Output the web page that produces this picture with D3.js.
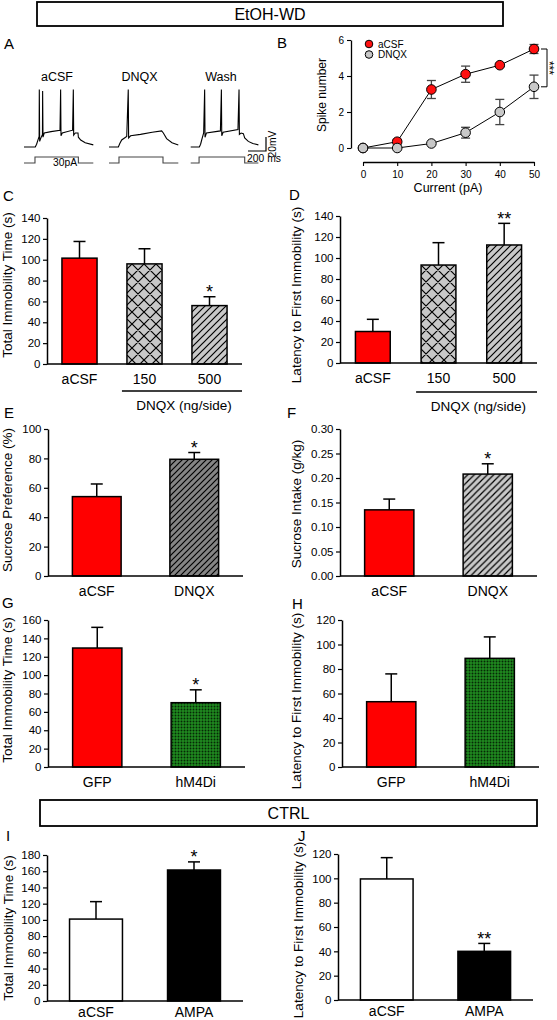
<!DOCTYPE html>
<html><head><meta charset="utf-8">
<script src="https://cdn.jsdelivr.net/npm/d3@7"></script>
<style>body{margin:0;background:#fff;} svg text{font-family:"Liberation Sans",Arial,sans-serif;}</style>
</head><body><svg id="c" width="557" height="1020"></svg>
<script>
// ---------------- DATA ----------------
const headerTop = "EtOH-WD";
const headerBottom = "CTRL";

// Panel A: example traces (time ms, membrane potential mV)
const traceNames = ["aCSF", "DNQX", "Wash"];
const traceACSF = [[0,-70],[125,-70],[140,-66],[160,-58],[168,-55],[170,12],[174,-62],[185,-58],[205,-52],[207,10],[211,-56],[225,-50],[300,-48],[400,-46],[407,12],[411,-54],[425,-50],[540,-46],[548,12],[552,-53],[570,-50],[600,-50],[604,-56],[630,-60],[680,-64],[770,-67]];
const traceDNQX = [[0,-70],[104,-70],[120,-65],[141,-60],[197,-55],[214,12],[218,-57],[240,-54],[350,-52],[480,-49],[585,-47],[604,-50],[640,-58],[700,-64],[770,-67]];
const traceWash = [[0,-70],[96,-70],[110,-66],[122,-60],[144,-50],[155,12],[159,-56],[175,-50],[330,-47],[341,12],[345,-54],[360,-49],[525,-45],[537,12],[541,-52],[560,-50],[585,-51],[600,-57],[640,-62],[690,-65],[752,-67]];
const stimOn = [122, 111, 93];
const stimOff = [604, 600, 600];
const traceEnd = [770, 770, 752];
const stimAmp = 30;      // pA
const scaleBarMs = 200;  // ms
const scaleBarMv = 20;   // mV

// Panel B
const bCurrent = [0, 10, 20, 30, 40, 50];
const bACSF = [0, 0.35, 3.25, 4.1, 4.6, 5.5];
const bACSFerr = [0, 0.12, 0.5, 0.45, 0.08, 0.25];
const bDNQX = [0, 0, 0.25, 0.85, 2.0, 3.4];
const bDNQXerr = [0, 0, 0.04, 0.3, 0.7, 0.65];
const bYTicks = [0, 2, 4, 6];
const bXTicks = [0, 10, 20, 30, 40, 50];

// Panel C
const cCats = ["aCSF", "150", "500"];
const cMeans = [101.5, 96, 56];
const cErr = [16, 14.5, 8.5];
const cSig = ["", "", "*"];
const cTicks = [0, 20, 40, 60, 80, 100, 120, 140];

// Panel D
const dCats = ["aCSF", "150", "500"];
const dMeans = [30, 93.3, 112.4];
const dErr = [11.6, 21.3, 20.6];
const dSig = ["", "", "**"];
const dTicks = [0, 20, 40, 60, 80, 100, 120, 140];

// Panel E
const eCats = ["aCSF", "DNQX"];
const eMeans = [54, 79.4];
const eErr = [8.6, 4.6];
const eSig = ["", "*"];
const eTicks = [0, 20, 40, 60, 80, 100];

// Panel F
const fCats = ["aCSF", "DNQX"];
const fMeans = [0.135, 0.208];
const fErr = [0.022, 0.021];
const fSig = ["", "*"];
const fTicks = [0, 0.05, 0.10, 0.15, 0.20, 0.25, 0.30];

// Panel G
const gCats = ["GFP", "hM4Di"];
const gMeans = [129.5, 70];
const gErr = [22.5, 14];
const gSig = ["", "*"];
const gTicks = [0, 20, 40, 60, 80, 100, 120, 140, 160];

// Panel H
const hCats = ["GFP", "hM4Di"];
const hMeans = [53.3, 88.7];
const hErr = [22.7, 17.5];
const hSig = ["", ""];
const hTicks = [0, 20, 40, 60, 80, 100, 120];

// Panel I
const iCats = ["aCSF", "AMPA"];
const iMeans = [101, 161.5];
const iErr = [21.5, 10];
const iSig = ["", "*"];
const iTicks = [0, 20, 40, 60, 80, 100, 120, 140, 160, 180];

// Panel J
const jCats = ["aCSF", "AMPA"];
const jMeans = [99.5, 40];
const jErr = [17.5, 6.5];
const jSig = ["", "**"];
const jTicks = [0, 20, 40, 60, 80, 100, 120];

// ---------------- DRAWING ----------------
const svg = d3.select("#c");
const FONT = "'Liberation Sans', Arial, sans-serif";
const defs = svg.append("defs");

function hatchPattern(id, bg, p, cross) {
  const pat = defs.append("pattern").attr("id", id).attr("patternUnits", "userSpaceOnUse")
    .attr("width", p).attr("height", p);
  pat.append("rect").attr("width", p).attr("height", p).attr("fill", bg);
  let d = `M-1,1L1,-1M0,${p}L${p},0M${p-1},${p+1}L${p+1},${p-1}`;
  if (cross) d += `M-1,${p-1}L1,${p+1}M0,0L${p},${p}M${p-1},-1L${p+1},1`;
  pat.append("path").attr("d", d).attr("stroke", "#000").attr("stroke-width", 1.2).attr("fill", "none");
}
hatchPattern("cross", "#c8c8c8", 12, true);
hatchPattern("hatchLight", "#c8c8c8", 7, false);
hatchPattern("hatchLight2", "#c8c8c8", 6.5, false);
hatchPattern("hatchDark", "#858585", 6, false);
{
  const pat = defs.append("pattern").attr("id", "dots").attr("patternUnits", "userSpaceOnUse")
    .attr("width", 3).attr("height", 3);
  pat.append("rect").attr("width", 3).attr("height", 3).attr("fill", "#1f8a1f");
  pat.append("circle").attr("cx", 1.5).attr("cy", 1.5).attr("r", 0.95).attr("fill", "#062806");
}

function txt(x, y, s, size, anchor, extra) {
  const t = svg.append("text").attr("x", x).attr("y", y).text(s)
    .attr("font-size", size).attr("text-anchor", anchor || "start").attr("fill", "#000");
  if (extra) extra(t);
  return t;
}
function rotLabel(x, y, s, size) {
  return svg.append("text").attr("transform", `translate(${x},${y}) rotate(-90)`)
    .attr("text-anchor", "middle").attr("font-size", size).attr("fill", "#000").text(s);
}

// Header boxes
function header(x0, x1, y0, y1, label) {
  svg.append("rect").attr("x", x0).attr("y", y0).attr("width", x1 - x0).attr("height", y1 - y0)
    .attr("fill", "none").attr("stroke", "#000").attr("stroke-width", 1.8);
  txt((x0 + x1) / 2, (y0 + y1) / 2 + 5.5, label, 16, "middle");
}
header(37, 503, 2, 26, headerTop);
header(40, 537, 800, 826, headerBottom);

// Panel letters
const letters = [["A",4,49],["B",277,48],["C",3,201],["D",289,200],["E",4,418],["F",287,418],["G",2,608],["H",292,609],["I",6,841],["J",298,841]];
letters.forEach(l => txt(l[1], l[2], l[0], 15));

// ---------- Panel A ----------
const traces = [traceACSF, traceDNQX, traceWash];
const traceX0 = [24, 109, 190.7];
const pxPerMs = 0.09;
const yV = d3.scaleLinear().domain([-70, 12]).range([147, 147 - 82 * 0.7]);
const yI = d3.scaleLinear().domain([0, stimAmp]).range([163, 157]);
const labelX = [57, 139.5, 221];
traces.forEach((tr, k) => {
  const xT = d3.scaleLinear().domain([0, 1]).range([traceX0[k], traceX0[k] + pxPerMs]);
  const line = d3.line().x(d => xT(d[0])).y(d => yV(d[1]));
  svg.append("path").attr("d", line(tr)).attr("fill", "none").attr("stroke", "#000").attr("stroke-width", 1.1);
  const step = [[0,0],[stimOn[k],0],[stimOn[k],stimAmp],[stimOff[k],stimAmp],[stimOff[k],0],[traceEnd[k],0]];
  const sl = d3.line().x(d => xT(d[0])).y(d => yI(d[1]));
  svg.append("path").attr("d", sl(step)).attr("fill", "none").attr("stroke", "#444").attr("stroke-width", 1.1);
  txt(labelX[k], 81, traceNames[k], 12.5, "middle");
});
txt(65, 165.5, stimAmp + "pA", 10.3, "middle");
{
  const sbX = d3.scaleLinear().domain([0, scaleBarMs]).range([248, 248 + scaleBarMs * pxPerMs]);
  const sbY = d3.scaleLinear().domain([0, scaleBarMv]).range([151, 151 - scaleBarMv * 0.7]);
  svg.append("path").attr("d", `M${sbX(0)},${sbY(0)}H${sbX(scaleBarMs)}V${sbY(scaleBarMv)}`)
    .attr("fill", "none").attr("stroke", "#000").attr("stroke-width", 1.2);
  txt(264, 162, scaleBarMs + " ms", 10.3, "middle");
  svg.append("text").attr("transform", `translate(275.5,${sbY(scaleBarMv/2)}) rotate(-90)`).attr("text-anchor","middle")
    .attr("font-size", 10.3).text(scaleBarMv + "mV");
}

// ---------- Panel B ----------
{
  const x = d3.scaleLinear().domain([0, 50]).range([363, 534]);
  const y = d3.scaleLinear().domain([0, 6]).range([148, 40]);
  const gy = svg.append("g").attr("transform", "translate(351,0)")
    .call(d3.axisLeft(y).tickValues(bYTicks).tickSize(4).tickSizeOuter(0).tickFormat(d3.format("d")));
  const gx = svg.append("g").attr("transform", "translate(0,162)")
    .call(d3.axisBottom(x).tickValues(bXTicks).tickSize(4).tickSizeOuter(0).tickFormat(d3.format("d")));
  [gy, gx].forEach(g => {
    g.selectAll("text").attr("font-family", FONT).attr("font-size", 10);
    g.select(".domain").attr("stroke-width", 1.3);
    g.selectAll(".tick line").attr("stroke-width", 1.1);
  });
  gx.selectAll("text").attr("dy", "0.85em");
  rotLabel(326, 95, "Spike number", 12);
  txt(448, 192, "Current (pA)", 12.5, "middle");

  const series = [
    {v: bACSF, e: bACSFerr, fill: "#ff1010"},
    {v: bDNQX, e: bDNQXerr, fill: "#c8c8c8"}
  ];
  series.forEach(s => {
    const pts = bCurrent.map((c, i) => [c, s.v[i], s.e[i]]);
    const eg = svg.append("g").attr("stroke", "#444").attr("stroke-width", 1.3);
    pts.filter(p => p[2] > 0).forEach(p => {
      eg.append("line").attr("x1", x(p[0])).attr("x2", x(p[0])).attr("y1", y(p[1] - p[2])).attr("y2", y(p[1] + p[2]));
      [p[1] - p[2], p[1] + p[2]].forEach(v => eg.append("line").attr("x1", x(p[0]) - 4.5).attr("x2", x(p[0]) + 4.5).attr("y1", y(v)).attr("y2", y(v)));
    });
    svg.append("path").attr("d", d3.line().x(p => x(p[0])).y(p => y(p[1]))(pts))
      .attr("fill", "none").attr("stroke", "#000").attr("stroke-width", 1);
  });
  series.forEach(s => {
    svg.append("g").selectAll("circle").data(bCurrent).join("circle")
      .attr("cx", d => x(d)).attr("cy", (d, i) => y(s.v[i])).attr("r", 4.8)
      .attr("fill", s.fill).attr("stroke", "#000").attr("stroke-width", 1);
  });
  // legend
  svg.append("circle").attr("cx", 369).attr("cy", 44).attr("r", 3.8).attr("fill", "#ff1010").attr("stroke", "#000");
  svg.append("circle").attr("cx", 369).attr("cy", 54.5).attr("r", 3.8).attr("fill", "#c8c8c8").attr("stroke", "#000");
  txt(378, 47.5, "aCSF", 10);
  txt(378, 58, "DNQX", 10);
  // significance bracket
  const yt = y(bACSF[5]), yb = y(bDNQX[5]);
  svg.append("path").attr("d", `M541,${yt}H547V${yb}H541`).attr("fill", "none").attr("stroke", "#000").attr("stroke-width", 1);
  svg.append("text").attr("transform", `translate(544.5,${(yt + yb) / 2}) rotate(90)`).attr("text-anchor", "middle")
    .attr("font-size", 12).text("***");
}

// ---------- Bar panels ----------
function barPanel(o) {
  const y = d3.scaleLinear().domain([0, o.ticks[o.ticks.length - 1]]).range([o.y0, o.yTop]);
  const x = d3.scaleBand().domain(o.cats).range([o.axisX, o.xEnd]).paddingInner(o.pad).paddingOuter(o.pad / 2);
  const g = svg.append("g");
  o.cats.forEach((c, i) => {
    const cx = x(c) + x.bandwidth() / 2;
    g.append("line").attr("x1", cx).attr("x2", cx).attr("y1", y(o.means[i])).attr("y2", y(o.means[i] + o.err[i]))
      .attr("stroke", "#000").attr("stroke-width", 1.5);
    g.append("line").attr("x1", cx - 6).attr("x2", cx + 6).attr("y1", y(o.means[i] + o.err[i])).attr("y2", y(o.means[i] + o.err[i]))
      .attr("stroke", "#000").attr("stroke-width", 1.5);
    if (o.sig[i]) {
      g.append("text").attr("x", cx).attr("y", y(o.means[i] + o.err[i]) + 1.5).attr("text-anchor", "middle")
        .attr("font-size", 18).attr("fill", "#000").text(o.sig[i]);
    }
  });
  g.selectAll("rect.bar").data(o.cats).join("rect").attr("class", "bar")
    .attr("x", d => x(d)).attr("width", x.bandwidth())
    .attr("y", (d, i) => y(o.means[i])).attr("height", (d, i) => y(0) - y(o.means[i]))
    .attr("fill", (d, i) => o.fills[i]).attr("stroke", "#000").attr("stroke-width", 1.5);
  const ax = g.append("g").attr("transform", `translate(${o.axisX},0)`)
    .call(d3.axisLeft(y).tickValues(o.ticks).tickSize(4).tickSizeOuter(0).tickFormat(o.fmt || d3.format("d")));
  ax.selectAll("text").attr("font-family", FONT).attr("font-size", 11.5).attr("x", -6.5);
  ax.select(".domain").attr("stroke-width", 1.5);
  ax.selectAll(".tick line").attr("stroke-width", 1.2);
  g.append("line").attr("x1", o.axisX).attr("x2", o.xEnd).attr("y1", y(0)).attr("y2", y(0))
    .attr("stroke", "#000").attr("stroke-width", 1.5);
  o.cats.forEach(c => txt(x(c) + x.bandwidth() / 2, y(0) + (o.catDy || 19.5), c, 14, "middle"));
  if (o.group) {
    const xs = x(o.cats[1]) - 5;
    g.append("line").attr("x1", xs).attr("x2", o.xEnd).attr("y1", o.group.y).attr("y2", o.group.y)
      .attr("stroke", "#000").attr("stroke-width", 1.5);
    const mid = (x(o.cats[1]) + x(o.cats[2]) + x.bandwidth()) / 2 + 7;
    txt(mid, o.group.y + 19, o.group.label, 13.5, "middle");
  }
  rotLabel(o.labX, o.labY, o.ylabel, 13.5);
}

const red = "#ff0000";
barPanel({cats: cCats, means: cMeans, err: cErr, sig: cSig, ticks: cTicks, fills: [red, "url(#cross)", "url(#hatchLight)"],
  axisX: 47, xEnd: 242, y0: 364, yTop: 218, pad: 0.46, ylabel: "Total Immobility Time (s)", labX: 12, labY: 285,
  group: {y: 391, label: "DNQX (ng/side)"}});
barPanel({cats: dCats, means: dMeans, err: dErr, sig: dSig, ticks: dTicks, fills: [red, "url(#cross)", "url(#hatchLight)"],
  axisX: 340, xEnd: 537, y0: 363, yTop: 216, pad: 0.47, ylabel: "Latency to First Immobility (s)", labX: 301, labY: 295,
  group: {y: 392, label: "DNQX (ng/side)"}});
barPanel({cats: eCats, means: eMeans, err: eErr, sig: eSig, ticks: eTicks, fills: [red, "url(#hatchDark)"],
  axisX: 48, xEnd: 243, y0: 576, yTop: 429, pad: 0.5, ylabel: "Sucrose Preference (%)", labX: 12, labY: 500});
barPanel({cats: fCats, means: fMeans, err: fErr, sig: fSig, ticks: fTicks, fills: [red, "url(#hatchLight2)"], fmt: d3.format(".2f"),
  axisX: 340, xEnd: 537, y0: 576, yTop: 429, pad: 0.5, ylabel: "Sucrose Intake (g/kg)", labX: 301, labY: 504});
barPanel({cats: gCats, means: gMeans, err: gErr, sig: gSig, ticks: gTicks, fills: [red, "url(#dots)"],
  axisX: 48, xEnd: 245, y0: 767, yTop: 620, pad: 0.5, ylabel: "Total Immobility Time (s)", labX: 12, labY: 690});
barPanel({cats: hCats, means: hMeans, err: hErr, sig: hSig, ticks: hTicks, fills: [red, "url(#dots)"],
  axisX: 342, xEnd: 539, y0: 767, yTop: 620, pad: 0.5, ylabel: "Latency to First Immobility (s)", labX: 301, labY: 701});
barPanel({cats: iCats, means: iMeans, err: iErr, sig: iSig, ticks: iTicks, fills: ["#fff", "#000"], catDy: 16,
  axisX: 47, xEnd: 243, y0: 1001, yTop: 855, pad: 0.46, ylabel: "Total Immobility Time (s)", labX: 13, labY: 928});
barPanel({cats: jCats, means: jMeans, err: jErr, sig: jSig, ticks: jTicks, fills: ["#fff", "#000"], catDy: 16,
  axisX: 338, xEnd: 533, y0: 1000, yTop: 854, pad: 0.46, ylabel: "Latency to First Immobility (s)", labX: 303, labY: 930});
</script></body></html>
